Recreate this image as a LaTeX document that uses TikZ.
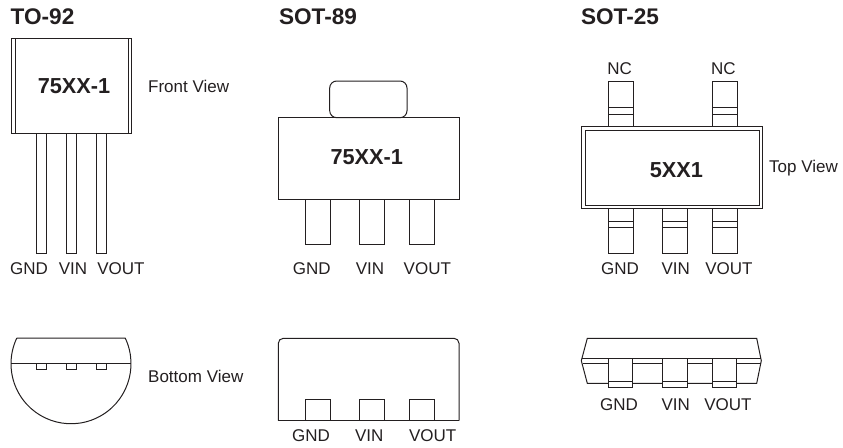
\documentclass[tikz,border=0pt]{standalone}
\usepackage{fontspec}
\setmainfont{Liberation Sans}
\definecolor{ink}{HTML}{231F20}
\tikzset{
  pkgline/.style={draw=ink,line width=1pt,line join=miter},
  pinlabel/.style={text=ink,inner sep=0pt,font=\fontsize{17}{20}\selectfont},
  marking/.style={text=ink,inner sep=0pt,font=\bfseries\fontsize{21.7}{24}\selectfont},
  pkgtitle/.style={text=ink,inner sep=0pt,font=\bfseries\fontsize{22.6}{25}\selectfont},
}
\begin{document}
\begin{tikzpicture}[x=1pt,y=-1pt]
\useasboundingbox (0,0) rectangle (843,447);
\node[pkgtitle] (titleA) at (42.5,17) {TO-92};
\node[pkgtitle] (titleB) at (318,17) {SOT-89};
\node[pkgtitle] (titleC) at (620,17) {SOT-25};
% TO-92
\draw[pkgline] (11,38) rectangle (131.5,133);
\draw[pkgline] (15.3,38) -- (15.3,133) (128,38) -- (128,133);
\foreach \x in {36,66,96} {
  \draw[pkgline] (\x,133) rectangle (\x+10.7,253.7);
  \draw[pkgline] (\x,363.7) rectangle (\x+10.7,369);
}
\draw[pkgline] (16.8,338) -- (125.2,338) arc (-25.4:205.4:60) -- cycle;
\draw[pkgline] (11.2,363.7) -- (130.8,363.7);
\node[marking] (markA) at (74,86) {75XX-1};
\node[pinlabel,anchor=west] (frontview) at (148,86) {Front View};
\node[pinlabel,anchor=west] (bottomview) at (148,376) {Bottom View};
\node[pinlabel] (gndA) at (29,268.7) {GND};
\node[pinlabel] (vinA) at (73,268.7) {VIN};
\node[pinlabel] (voutA) at (121,268.7) {VOUT};
% SOT-89
\draw[pkgline,rounded corners=7pt] (329.7,81) rectangle (407,117.7);
\draw[pkgline] (278.3,117.7) rectangle (459.7,199.3);
\foreach \x in {305.7,359.7,409.5} {
  \draw[pkgline] (\x,199.3) rectangle (\x+25,244.3);
  \draw[pkgline] (\x,399.3) rectangle (\x+25,420.7);
}
\draw[pkgline,rounded corners=5pt] (278.3,420.7) -- (278.3,338.3) -- (459,338.3) -- (459,420.7);
\draw[pkgline] (278.3,420.7) -- (459,420.7);
\node[marking] (markB) at (366.7,157.3) {75XX-1};
\node[pinlabel] (gndB) at (311.7,268.7) {GND};
\node[pinlabel] (vinB) at (370,268.7) {VIN};
\node[pinlabel] (voutB) at (427.3,268.7) {VOUT};
\node[pinlabel] (gndC) at (311,436) {GND};
\node[pinlabel] (vinC) at (369.3,436) {VIN};
\node[pinlabel] (voutC) at (432.7,436) {VOUT};
% SOT-25
\draw[pkgline] (581.3,126.7) rectangle (762.3,208.7);
\draw[pkgline] (585,130) rectangle (759,205);
\foreach \x in {608.3,712.7} {
  \draw[pkgline] (\x,81.7) rectangle (\x+25,126.7);
  \draw[pkgline] (\x,107.3) -- (\x+25,107.3) (\x,114) -- (\x+25,114);
}
\foreach \x in {608.3,662.5,712.7} {
  \draw[pkgline] (\x,208.7) rectangle (\x+25,253.3);
  \draw[pkgline] (\x,221) -- (\x+25,221) (\x,227.7) -- (\x+25,227.7);
}
\draw[pkgline] (587.3,338.3) -- (756.7,338.3) -- (761.3,360.7) -- (756.7,383.3) -- (587.3,383.3) -- (581.3,360.7) -- cycle;
\draw[pkgline] (581.8,358.3) -- (761,358.3) (582.8,363.3) -- (760.6,363.3);
\foreach \x in {608,662.3,712} {
  \draw[pkgline,fill=white] (\x,358.3) rectangle (\x+24.7,387.7);
  \draw[pkgline] (\x,381) -- (\x+24.7,381);
}
\node[marking] (markC) at (676.3,170) {5XX1};
\node[pinlabel,anchor=west] (topview) at (769,168.3) {Top View};
\node[pinlabel] (ncA) at (619.7,69) {NC};
\node[pinlabel] (ncB) at (723.3,69) {NC};
\node[pinlabel] (gndD) at (620,269) {GND};
\node[pinlabel] (vinD) at (675.7,269) {VIN};
\node[pinlabel] (voutD) at (729,269) {VOUT};
\node[pinlabel] (gndE) at (619,404.3) {GND};
\node[pinlabel] (vinE) at (675.7,404.3) {VIN};
\node[pinlabel] (voutE) at (728,404.3) {VOUT};
\end{tikzpicture}
\end{document}
